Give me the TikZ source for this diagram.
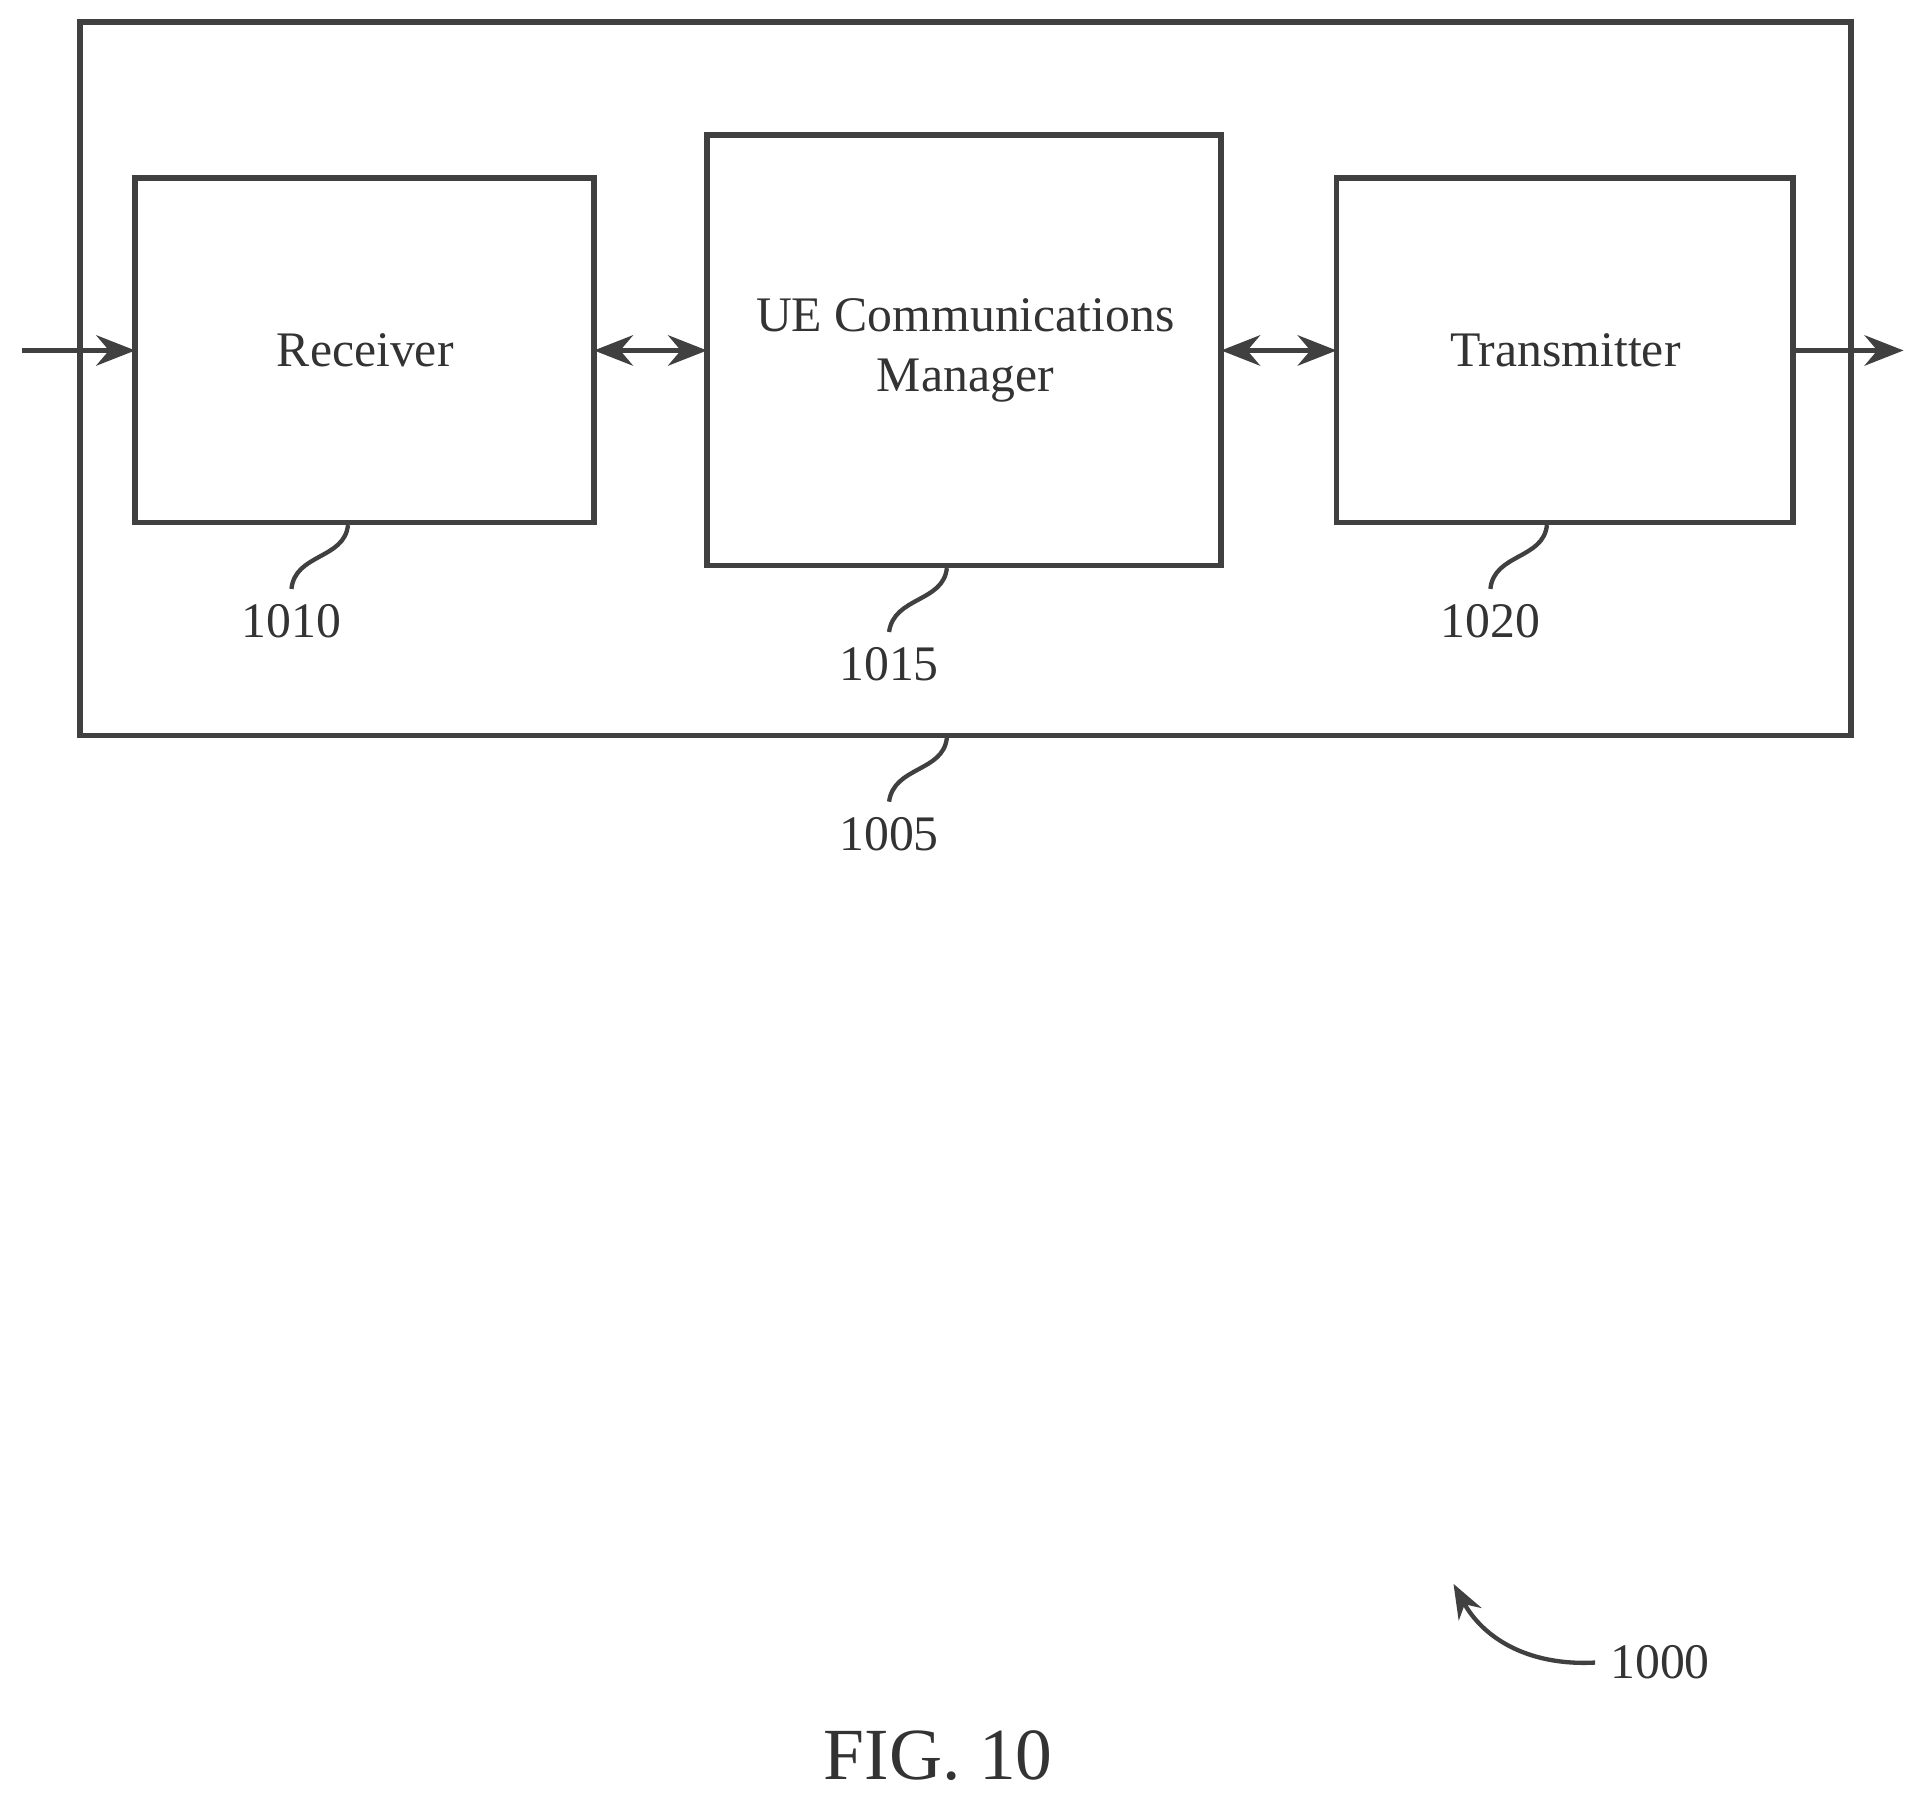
\documentclass[tikz,border=0pt]{standalone}
\usepackage{fontspec}
\setmainfont{Liberation Serif}
\usetikzlibrary{arrows.meta}
\begin{document}
\begin{tikzpicture}[x=0.01cm,y=-0.01cm,
  box/.style={draw=black!75,line width=1.3pt},
  conn/.style={draw=black!75,line width=1.3pt,-{Stealth[length=9pt,width=7pt]}},
  bconn/.style={draw=black!75,line width=1.3pt,{Stealth[length=9pt,width=7pt]}-{Stealth[length=9pt,width=7pt]}},
  lead/.style={draw=black!75,line width=1pt},
  txt/.style={font=\fontsize{11.5}{14}\selectfont,text=black!80,align=center},
  num/.style={font=\fontsize{11.5}{14}\selectfont,text=black!80}]
\useasboundingbox (0,0) rectangle (1563,1460);
\draw[box] (65,18) rectangle (1505,598);
\coordinate (o1) at (770,600);
\draw[box] (110,145) rectangle (483,425);
\draw[box] (575,110) rectangle (993,460);
\draw[box] (1087,145) rectangle (1458,425);
\node[txt] (rx) at (297,285) {Receiver};
\node[txt] (ue) at (785,285) {UE Communications\\Manager};
\node[txt] (tx) at (1273,285) {Transmitter};
\coordinate (in) at (18,285); \coordinate (rxl) at (110,285);
\coordinate (rxr) at (483,285); \coordinate (uel) at (575,285);
\coordinate (uer) at (993,285); \coordinate (txl) at (1087,285);
\coordinate (txr) at (1458,285); \coordinate (out) at (1548,285);
\draw[conn] (in) -- (rxl);
\draw[bconn] (rxr) -- (uel);
\draw[bconn] (uer) -- (txl);
\draw[conn] (txr) -- (out);
\node[num] (n1010) at (237,505) {1010};
\node[num] (n1015) at (723,540) {1015};
\node[num] (n1020) at (1212,505) {1020};
\node[num] (n1005) at (723,678) {1005};
\node[num] (n1000) at (1350,1352) {1000};
\draw[lead] (283,427) .. controls (280,455) and (240,450) .. (n1010.north);
\draw[lead] (770,462) .. controls (767,490) and (727,485) .. (n1015.north);
\draw[lead] (1258,427) .. controls (1255,455) and (1215,450) .. (n1020.north);
\draw[lead] (o1) .. controls (767,628) and (727,623) .. (n1005.north);
\draw[lead,-{Stealth[length=8pt,width=6pt]}] (n1000.west) .. controls (1240,1355) and (1205,1330) .. (1182,1288);
\node[font=\fontsize{17}{20}\selectfont,text=black!80] (fig) at (763,1428) {FIG. 10};
\end{tikzpicture}
\end{document}
